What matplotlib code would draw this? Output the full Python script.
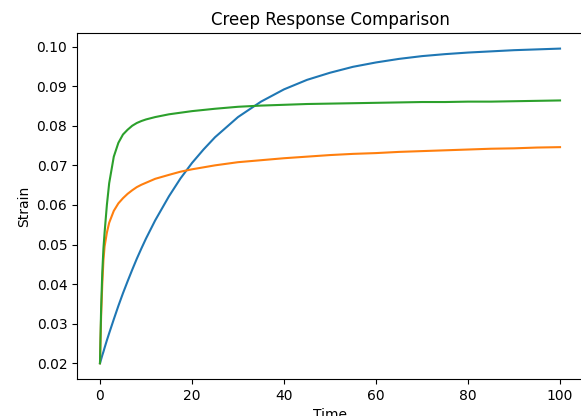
import matplotlib
matplotlib.use("Agg")
import matplotlib.pyplot as plt

# Values
time = [0, 0.1, 0.25, 0.5, 0.75, 1, 1.5, 2, 3, 4, 5, 6, 7, 8, 9, 10, 12, 15,
        17.5, 20, 22.5, 25, 30, 35, 40, 45, 50, 55, 60, 65, 70, 75, 80, 85,
        90, 95, 100]

strain_blue = [0.0200, 0.0204, 0.0210, 0.0220, 0.0229, 0.0239, 0.0258, 0.0276,
               0.0311, 0.0345, 0.0377, 0.0407, 0.0436, 0.0464, 0.0490, 0.0515,
               0.0561, 0.0622, 0.0667, 0.0706, 0.0740, 0.0771, 0.0822, 0.0861,
               0.0892, 0.0916, 0.0934, 0.0949, 0.0960, 0.0969, 0.0976, 0.0981,
               0.0985, 0.0988, 0.0991, 0.0993, 0.0995]

strain_orange = [0.0200, 0.0250, 0.0320, 0.0400, 0.0460, 0.0495, 0.0530, 0.0555,
                 0.0585, 0.0604, 0.0617, 0.0628, 0.0637, 0.0645, 0.0651, 0.0656,
                 0.0666, 0.0676, 0.0684, 0.0690, 0.0695, 0.0700, 0.0708, 0.0713,
                 0.0718, 0.0722, 0.0726, 0.0729, 0.0731, 0.0734, 0.0736, 0.0738,
                 0.0740, 0.0742, 0.0743, 0.0745, 0.0746]

strain_green = [0.0200, 0.0260, 0.0340, 0.0430, 0.0490, 0.0530, 0.0600, 0.0655,
                0.0722, 0.0757, 0.0778, 0.0790, 0.0800, 0.0807, 0.0812, 0.0816,
                0.0822, 0.0829, 0.0833, 0.0837, 0.0840, 0.0843, 0.0848, 0.0851,
                0.0853, 0.0855, 0.0856, 0.0857, 0.0858, 0.0859, 0.0860, 0.0860,
                0.0861, 0.0861, 0.0862, 0.0863, 0.0864]

fig = plt.figure(figsize=(5.81, 4.16), dpi=100)
ax = fig.add_axes([0.1325, 0.089, 0.871, 0.832])

ax.plot(time, strain_blue)
ax.plot(time, strain_orange)
ax.plot(time, strain_green)

ax.set_title("Creep Response Comparison")
ax.set_xlabel("Time")
ax.set_ylabel("Strain")

fig.savefig("out.png", dpi=100)
